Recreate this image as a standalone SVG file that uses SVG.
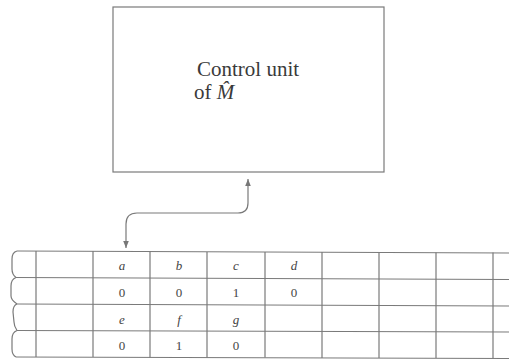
<svg xmlns="http://www.w3.org/2000/svg" width="509" height="360" viewBox="0 0 509 360">
<style>
.ln{stroke:#7a7a7a;stroke-width:1.2;fill:none}
.tx{fill:#3a3a3a}
.cell{font-size:13px;fill:#444;text-anchor:middle}
.it{font-style:italic}
</style>
<defs>
<marker id="ah" viewBox="0 0 10 10" refX="10" refY="5" markerWidth="7" markerHeight="7" orient="auto-start-reverse" markerUnits="userSpaceOnUse">
<path d="M0,1 L10,5 L0,9 Z" fill="#777"/>
</marker>
</defs>
<rect width="509" height="360" fill="#fff"/>
<g id="control-unit" font-family="Liberation Serif, DejaVu Serif, serif">
<rect x="113" y="7" width="271" height="165" class="ln"/>
<text class="tx" font-size="21" x="197" y="76">Control unit</text>
<text class="tx" font-size="21" x="194" y="99">of <tspan font-style="italic">M̂</tspan></text>
</g>
<g id="connectors">
<path class="ln" d="M248,179 L248,203 Q248,213 238,213 L137,213 Q126,213 126,224 L126,248" marker-start="url(#ah)" marker-end="url(#ah)"/>
</g>
<g id="tape" font-family="Liberation Serif, DejaVu Serif, serif">
<g class="ln">
<line x1="17" y1="251" x2="509" y2="253"/>
<line x1="16" y1="277.5" x2="509" y2="279.5"/>
<line x1="17" y1="304" x2="509" y2="306"/>
<line x1="17" y1="330.5" x2="509" y2="332"/>
<line x1="16" y1="357" x2="509" y2="358.5"/>
<path d="M17,251 C13,252 12,255 12,259 L12,269 C12,273 14,276 16,277.5"/>
<path d="M16,277.5 C12,279 11,282 11,286 L11,296 C11,300 14,302 17,304"/>
<path d="M17,304 C14,305 13,308 13,312 L14,322 C14,326 16,329 17,330.5"/>
<path d="M17,330.5 C13,332 12,335 12,339 L12,349 C12,353 14,356 16,357"/>
<line x1="36" y1="251" x2="36" y2="357"/>
<line x1="93" y1="251" x2="93" y2="357"/>
<line x1="150" y1="251" x2="150" y2="357.5"/>
<line x1="207" y1="252" x2="207" y2="357.5"/>
<line x1="265" y1="252" x2="265" y2="357.5"/>
<line x1="322" y1="252" x2="322" y2="358"/>
<line x1="379" y1="252" x2="379" y2="358"/>
<line x1="436" y1="252.5" x2="436" y2="358"/>
<line x1="493" y1="252.5" x2="493" y2="358.5"/>
</g>
<text class="cell it" x="122" y="270">a</text>
<text class="cell it" x="179" y="270">b</text>
<text class="cell it" x="236" y="270">c</text>
<text class="cell it" x="294" y="270">d</text>
<text class="cell" x="122" y="297">0</text>
<text class="cell" x="179" y="297">0</text>
<text class="cell" x="236" y="297">1</text>
<text class="cell" x="294" y="297">0</text>
<text class="cell it" x="122" y="324">e</text>
<text class="cell it" x="179" y="324">f</text>
<text class="cell it" x="236" y="324">g</text>
<text class="cell" x="122" y="350">0</text>
<text class="cell" x="179" y="350">1</text>
<text class="cell" x="236" y="350">0</text>
</g>
</svg>
